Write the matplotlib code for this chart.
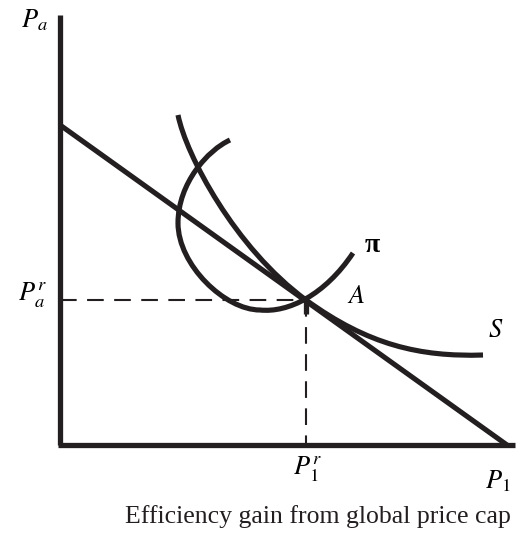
"""Efficiency gain from global price cap"""
import matplotlib
matplotlib.use('Agg')
import matplotlib.pyplot as plt
from matplotlib.path import Path
from matplotlib.patches import PathPatch

plt.rcParams['mathtext.fontset'] = 'stix'
plt.rcParams['font.family'] = ['Liberation Serif', 'DejaVu Serif']

# axis extents (P1 right, Pa up)
P1_MAX = 455
PA_MAX = 430

# budget / price-cap line intercepts
LINE_P1 = [0, 447]
LINE_PA = [320, 0]

# optimum A
A_P1 = 246
A_PA = 145

# S curve: start, then (cp1, cp2, end) per cubic segment
S_VERTS = [(118, 330),
           (126, 290), (175, 197), (246, 145),
           (308, 100), (360, 88), (423, 90)]

# isoprofit curve pi
PI_VERTS = [(170, 305),
            (148, 295), (118, 262), (118, 222),
            (118, 180), (165, 135), (200, 135),
            (228, 132), (265, 150), (293, 192)]


def bezier(verts):
    codes = [Path.MOVETO] + [Path.CURVE4] * (len(verts) - 1)
    return Path(verts, codes)


fig = plt.figure(figsize=(5.23, 5.34), dpi=100)
ax = fig.add_axes([0, 0, 1, 1])
ax.set_xlim(-60, 463)
ax.set_ylim(-89, 445)
ax.axis('off')

ink = '#231f20'
lw = 3.7
# axes
ax.plot([0, 0], [0, PA_MAX], color=ink, lw=3.8, solid_capstyle='butt')
ax.plot([-2, P1_MAX], [0, 0], color=ink, lw=3.8, solid_capstyle='butt')

# price-cap line
ax.plot(LINE_P1, LINE_PA, color=ink, lw=lw, solid_capstyle='butt')

# curves
ax.add_patch(PathPatch(bezier(S_VERTS), fill=False, lw=lw, ec=ink,
                       capstyle='butt'))
ax.add_patch(PathPatch(bezier(PI_VERTS), fill=False, lw=lw, ec=ink,
                       capstyle='butt'))

# dashed guides
ax.plot([0, A_P1], [A_PA, A_PA], color=ink, lw=1.5, dashes=(8, 5))
ax.plot([A_P1, A_P1], [A_PA, 0], color=ink, lw=1.5, dashes=(8, 5))
ax.plot([A_P1, A_P1], [A_PA, A_PA - 14], color=ink, lw=3.8,
        solid_capstyle='butt')

# labels
ax.text(-26, 425, r'$P_a$', fontsize=19, ha='center', va='center')
ax.text(-28, 150, r'$P_a^r$', fontsize=19, ha='center', va='center')
ax.text(247, -24, r'$P_1^r$', fontsize=19, ha='center', va='center')
ax.text(438, -36, r'$P_1$', fontsize=19, ha='center', va='center')
ax.text(296, 148, r'$A$', fontsize=19, ha='center', va='center')
ax.text(436, 114, r'$S$', fontsize=19, ha='center', va='center')
ax.text(312, 200, '\u03c0', fontsize=20, ha='center', va='center',
        fontweight='bold')
ax.text(258, -72, 'Efficiency gain from global price cap', fontsize=18.5,
        ha='center', va='center', color=ink)

fig.savefig('out.png', dpi=100)
